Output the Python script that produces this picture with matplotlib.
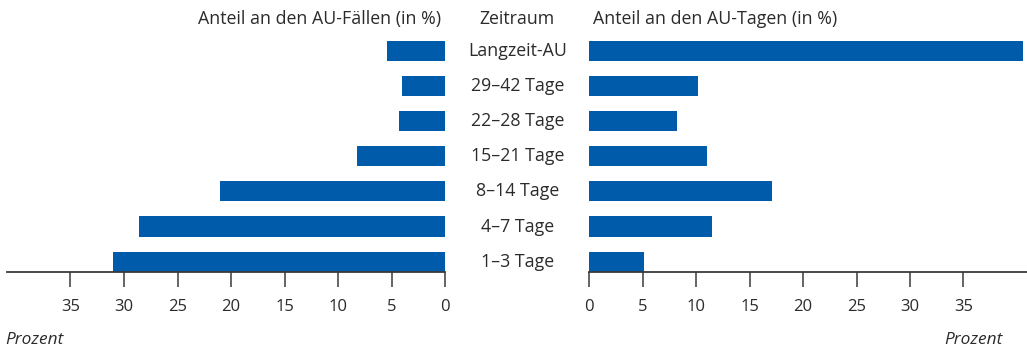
import matplotlib
matplotlib.use("Agg")
import matplotlib.pyplot as plt

plt.rcParams['font.family'] = ['Open Sans', 'DejaVu Sans']

# Dauer der Arbeitsunfähigkeit
zeitraum = ['1–3 Tage', '4–7 Tage', '8–14 Tage', '15–21 Tage',
            '22–28 Tage', '29–42 Tage', 'Langzeit-AU']
anteil_faelle = [31.0, 28.6, 21.0, 8.2, 4.3, 4.0, 5.4]   # Anteil an den AU-Fällen
anteil_tage = [5.1, 11.5, 17.1, 11.0, 8.2, 10.2, 40.6]   # Anteil an den AU-Tagen
ticks = [0, 5, 10, 15, 20, 25, 30, 35]

blau = '#005baa'
txt = '#2b2b2b'
fs = 12.8
W, H = 1027, 354
fig = plt.figure(figsize=(W / 100, H / 100), dpi=100)

bottom = 1 - 271.7 / H
height = (271.7 - 33.1) / H
ax_l = fig.add_axes([7.3 / W, bottom, 438 / W, height])
ax_r = fig.add_axes([589.3 / W, bottom, (W - 589.3) / W, height])

y = list(range(len(zeitraum)))
ax_l.barh(y, anteil_faelle, height=0.57, color=blau)
ax_r.barh(y, anteil_tage, height=0.57, color=blau)

ax_l.set_xlim(40.9, 0)
ax_r.set_xlim(0, 40.95)
for ax in (ax_l, ax_r):
    ax.set_ylim(-0.285, 6.5)
    for s in ('top', 'left', 'right'):
        ax.spines[s].set_visible(False)
    ax.spines['bottom'].set_color('#3a3a3a')
    ax.spines['bottom'].set_linewidth(1.3)
    ax.set_yticks([])
    ax.set_xticks(ticks)
    ax.tick_params(axis='x', direction='out', length=11, width=1.1,
                   color='#3a3a3a', pad=9, labelsize=12, labelcolor=txt)
    ax.set_facecolor('none')

# Zeitraum-Beschriftungen in der Mitte
for yi, lab in zip(y, zeitraum):
    ax_l.annotate(lab, xy=(0, yi), xycoords='data', xytext=(72 * 0.72, 0),
                  textcoords='offset points', ha='center', va='center',
                  fontsize=fs, color=txt, annotation_clip=False)

fig.text(441 / W, 1 - 19 / H, 'Anteil an den AU-Fällen (in %)', ha='right',
         va='center', fontsize=fs, color=txt)
fig.text(517 / W, 1 - 19 / H, 'Zeitraum', ha='center', va='center',
         fontsize=fs, color=txt)
fig.text(593 / W, 1 - 19 / H, 'Anteil an den AU-Tagen (in %)', ha='left',
         va='center', fontsize=fs, color=txt)
fig.text(5 / W, 1 - 340 / H, 'Prozent', ha='left', va='center',
         fontsize=12.4, style='italic', color=txt)
fig.text(1003 / W, 1 - 340 / H, 'Prozent', ha='right', va='center',
         fontsize=12.4, style='italic', color=txt)

fig.savefig('out.png', dpi=100)
